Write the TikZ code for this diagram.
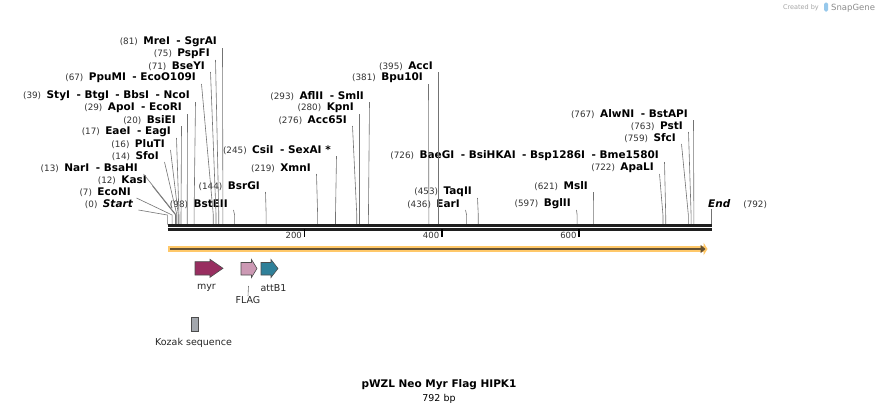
\documentclass[tikz,border=0pt]{standalone}
\usepackage{fontspec}
\setmainfont{DejaVu Sans}
\usetikzlibrary{positioning,arrows.meta,calc}

\definecolor{myrfill}{RGB}{152,46,96}
\definecolor{flagfill}{RGB}{204,153,180}
\definecolor{attfill}{RGB}{47,128,153}
\definecolor{kozakfill}{RGB}{163,167,173}
\definecolor{glow}{RGB}{255,200,105}
\definecolor{seqline}{RGB}{100,80,50}
\definecolor{snapblue}{RGB}{150,200,235}

\newcommand{\sx}[1]{167.3+0.6865*#1}
\newcommand{\enz}[2]{{\fontsize{8.8}{10}\selectfont\color{black!80}(#1)}\hspace{5.5pt}{\fontsize{10.5}{12}\selectfont\bfseries #2}}
\newcommand{\orr}{\hspace{6.5pt}- }

\begin{document}
\begin{tikzpicture}[
    x=1pt, y=-1pt,
    font=\fontsize{9.5}{11}\selectfont,
    enzlabel/.style={anchor=east, inner sep=0pt},
    leader/.style={draw=black!55, line width=0.6pt},
    backbone/.style={draw=black!88, line width=2.3pt},
    tickmark/.style={draw=black, line width=1.5pt},
    ticklabel/.style={anchor=east, inner sep=0pt, font=\fontsize{8.5}{10}\selectfont, text=black!80},
    featshape/.style={draw=black!70, line width=0.6pt},
    featlabel/.style={inner sep=0pt, font=\fontsize{9.5}{11}\selectfont, text=black!85}
]
\useasboundingbox[fill=white] (0,0) rectangle (880,413);

\node[anchor=east, inner sep=0pt, font=\fontsize{6.5}{8}\selectfont, text=black!35] (created) at (819,8) {Created by};
\node[inner sep=0pt, minimum width=4pt, minimum height=9pt, fill=snapblue, rounded corners=1.5pt] (snaplogo) at (826,7) {};
\node[anchor=west, inner sep=0pt, font=\fontsize{8.5}{10}\selectfont, text=black!45] (snapgene) at (831,8) {SnapGene};

\node[enzlabel] (start) at (133,204) {{\fontsize{8.8}{10}\selectfont\color{black!80}(0)}\hspace{5.5pt}{\fontsize{10.5}{12}\selectfont\bfseries\itshape Start}};
\node[enzlabel] (econi) at (131,192) {\enz{7}{EcoNI}};
\node[enzlabel] (kasi) at (147,180) {\enz{12}{KasI}};
\node[enzlabel] (nari) at (138,168) {\enz{13}{NarI\orr BsaHI}};
\node[enzlabel] (sfoi) at (159,156) {\enz{14}{SfoI}};
\node[enzlabel] (pluti) at (165,144) {\enz{16}{PluTI}};
\node[enzlabel] (eaei) at (171,132) {\enz{17}{EaeI\orr EagI}};
\node[enzlabel] (bsiei) at (176,120) {\enz{20}{BsiEI}};
\node[enzlabel] (apoi) at (182,108) {\enz{29}{ApoI\orr EcoRI}};
\node[enzlabel] (styi) at (190,96) {\enz{39}{StyI\orr BtgI\orr BbsI\orr NcoI}};
\node[enzlabel] (ppumi) at (196,78) {\enz{67}{PpuMI\orr EcoO109I}};
\node[enzlabel] (bseyi) at (205,66) {\enz{71}{BseYI}};
\node[enzlabel] (pspfi) at (210,54) {\enz{75}{PspFI}};
\node[enzlabel] (mrei) at (217,42) {\enz{81}{MreI\orr SgrAI}};
\node[enzlabel] (bsteii) at (228,204) {\enz{98}{BstEII}};
\node[enzlabel] (bsrgi) at (260,186) {\enz{144}{BsrGI}};
\node[enzlabel] (xmni) at (311,168) {\enz{219}{XmnI}};
\node[enzlabel] (csii) at (331,150) {\enz{245}{CsiI\orr SexAI *}};
\node[enzlabel] (acc65i) at (347,120) {\enz{276}{Acc65I}};
\node[enzlabel] (kpni) at (354,108) {\enz{280}{KpnI}};
\node[enzlabel] (aflii) at (364,96) {\enz{293}{AflII\orr SmlI}};
\node[enzlabel] (bpu10i) at (423,78) {\enz{381}{Bpu10I}};
\node[enzlabel] (acci) at (433,66) {\enz{395}{AccI}};
\node[enzlabel] (eari) at (460,204) {\enz{436}{EarI}};
\node[enzlabel] (taqii) at (472,192) {\enz{453}{TaqII}};
\node[enzlabel] (bglii) at (571,204) {\enz{597}{BglII}};
\node[enzlabel] (msli) at (588,186) {\enz{621}{MslI}};
\node[enzlabel] (baegi) at (659,156) {\enz{726}{BaeGI\orr BsiHKAI\orr Bsp1286I\orr Bme1580I}};
\node[enzlabel] (apali) at (654,168) {\enz{722}{ApaLI}};
\node[enzlabel] (sfci) at (676,138) {\enz{759}{SfcI}};
\node[enzlabel] (psti) at (683,126) {\enz{763}{PstI}};
\node[enzlabel] (alwni) at (688,114) {\enz{767}{AlwNI\orr BstAPI}};
\node[anchor=west, inner sep=0pt] (end) at (708,204) {{\fontsize{10.5}{12}\selectfont\bfseries\itshape End}\hspace{13pt}{\fontsize{8.8}{10}\selectfont\color{black!80}(792)}};

\foreach \n/\bp in {start/0, econi/7, kasi/12, nari/13, sfoi/14, pluti/16, eaei/17, bsiei/20, apoi/29, styi/39, ppumi/67, bseyi/71, pspfi/75, mrei/81, bsteii/98, bsrgi/144, xmni/219, csii/245, acc65i/276, kpni/280, aflii/293, bpu10i/381, acci/395, eari/436, taqii/453, bglii/597, msli/621, apali/722, baegi/726, sfci/759, psti/763, alwni/767} {
    \coordinate (\n-s) at (\sx{\bp},224.5);
    \draw[leader] ($(\n.east)+(5.5,6)$) -- ($(\n-s)+(0,-9.5)$) -- (\n-s);
}
\coordinate (end-s) at (\sx{792},224.5);
\draw[leader] ($(end-s)+(0,-15.5)$) -- (end-s);

\coordinate (bbL) at (167.5,225.5);
\coordinate (bbR) at (712,225.5);
\draw[backbone] (bbL) -- (bbR);
\draw[backbone] ($(bbL)+(0,4)$) -- ($(bbR)+(0,4)$);

\coordinate (t200) at (\sx{200},229);
\coordinate (t400) at (\sx{400},229);
\coordinate (t600) at (\sx{600},229);
\draw[tickmark] (t200) -- ++(0,7.5);
\draw[tickmark] (t400) -- ++(0,7.5);
\draw[tickmark] (t600) -- ++(0,7.5);
\node[ticklabel] (l200) at ($(t200)+(-2.5,6.5)$) {200};
\node[ticklabel] (l400) at ($(t400)+(-2.5,6.5)$) {400};
\node[ticklabel] (l600) at ($(t600)+(-2.5,6.5)$) {600};

\coordinate (seqL) at (168.3,249);
\coordinate (seqR) at (707.5,249);
\draw[draw=glow, line width=6pt, -{Triangle[length=4pt,width=12.5pt]}] (seqL) -- (seqR);
\draw[draw=seqline, line width=2pt, -{Triangle[length=5pt,width=8pt]}] ($(seqL)+(1.5,0)$) -- ($(seqR)+(-2,0)$);

\draw[featshape, fill=myrfill] (195,261.7) -- (210,261.7) -- (210,259.3) -- (223,268.3) -- (210,277.3) -- (210,275) -- (195,275) -- cycle;
\draw[featshape, fill=flagfill] (241,262.5) -- (251.5,262.5) -- (251.5,259.5) -- (257,268.5) -- (251.5,277.5) -- (251.5,275) -- (241,275) -- cycle;
\draw[featshape, fill=attfill] (261,262.5) -- (271,262.5) -- (271,259.5) -- (278,268.5) -- (271,277.5) -- (271,275) -- (261,275) -- cycle;
\draw[featshape, fill=kozakfill] (191.5,317) rectangle (198.3,331.5);

\node[featlabel] (myr) at (206.5,288) {myr};
\node[featlabel] (flag) at (248,300) {FLAG};
\node[featlabel] (attb1) at (273.5,288) {attB1};
\node[featlabel] (kozak) at (193.5,343) {Kozak sequence};
\coordinate (flagtick) at (248.5,286);
\draw[leader] (flagtick) -- (flag.north);

\node[inner sep=0pt, font=\fontsize{10.5}{12}\selectfont\bfseries] (title) at (439,385) {pWZL Neo Myr Flag HIPK1};
\node[inner sep=0pt, below=4pt of title, font=\fontsize{9.5}{11}\selectfont] (size) {792 bp};
\end{tikzpicture}
\end{document}
